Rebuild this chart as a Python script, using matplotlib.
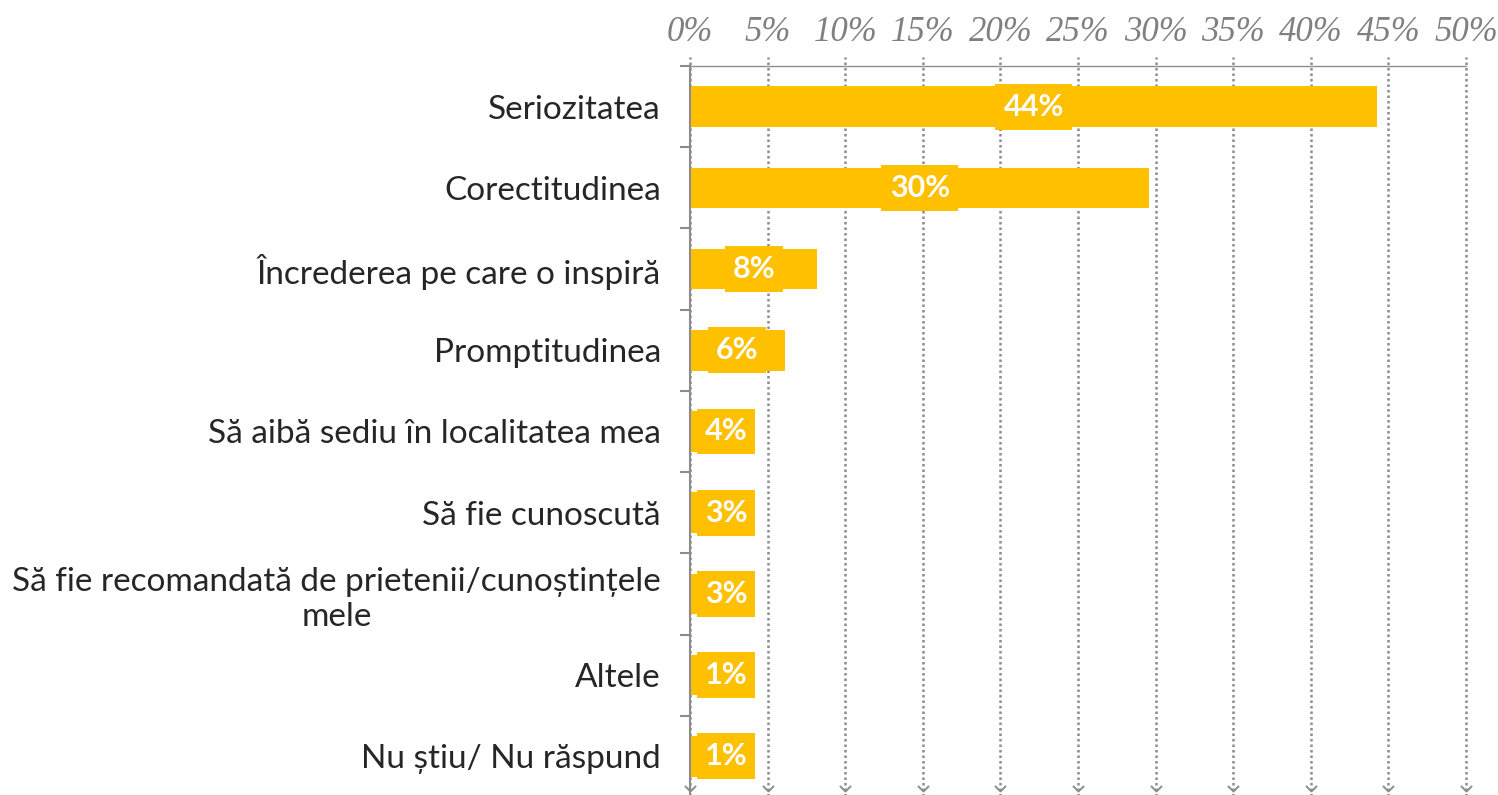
import matplotlib
matplotlib.use("Agg")
import matplotlib.pyplot as plt
from matplotlib.path import Path

categories = [
    "Seriozitatea",
    "Corectitudinea",
    "Încrederea pe care o inspiră",
    "Promptitudinea",
    "Să aibă sediu în localitatea mea",
    "Să fie cunoscută",
    "Să fie recomandată de prietenii/cunoștințele\nmele",
    "Altele",
    "Nu știu/ Nu răspund",
]
values = [44.3, 29.6, 8.2, 6.1, 3.8, 3.2, 2.9, 1.2, 1.0]
x_ticks = [0, 5, 10, 15, 20, 25, 30, 35, 40, 45, 50]
x_tick_labels = [f"{t}%" for t in x_ticks]

BAR_COLOR = "#FFC000"
GRID_COLOR = "#8C8C8C"
TEXT_COLOR = "#262626"

fig = plt.figure(figsize=(14.98, 7.95), dpi=100)
ax = fig.add_axes([0.4606, -0.0025, 0.518, 0.9195])

y = list(range(len(categories)))
ax.barh(y, values, height=0.5, color=BAR_COLOR, zorder=2)

ax.set_xlim(0, 50)
ax.set_ylim(len(categories) - 0.5, -0.5)

# value labels sit on a box of bar colour, a bit taller than the bar
px = 50 / 776  # data units per pixel
for yi, v in zip(y, values):
    label = f"{round(v)}%"
    box_w = (len(label) * 19 + 20) * px
    cx = max(v / 2, 2.32)
    ax.barh(yi, box_w, left=cx - box_w / 2, height=0.565, color=BAR_COLOR, zorder=3)
    ax.text(cx, yi, label, color="white", fontsize=22,
            fontweight="bold", family="Lato", ha="center", va="center", zorder=4)

# dotted gridlines that poke above the top line, with small arrow heads at the bottom
ext = 9 / 731
for t in x_ticks:
    ax.axvline(t, ymin=0, ymax=1 + ext, color=GRID_COLOR, lw=1.8,
               ls=(0, (1, 1.2)), clip_on=False, zorder=1)
chevron = Path([(-1, 1), (0, 0), (1, 1)], [Path.MOVETO, Path.LINETO, Path.LINETO])
ax.plot(x_ticks, [8.43] * len(x_ticks), ls="none", marker=chevron, markersize=8,
        markerfacecolor="none", markeredgecolor=GRID_COLOR, markeredgewidth=1.4,
        clip_on=False, zorder=1)

# spines
for s in ["right", "bottom"]:
    ax.spines[s].set_visible(False)
ax.spines["top"].set_linestyle((0, (1, 1)))
ax.spines["top"].set_color(GRID_COLOR)
ax.spines["top"].set_linewidth(1.0)
ax.spines["left"].set_color("#8C8C8C")
ax.spines["left"].set_linewidth(1.5)

ax.xaxis.tick_top()
ax.set_xticks(x_ticks)
ax.set_xticklabels(x_tick_labels, fontsize=25, style="italic",
                   family="Liberation Serif", color="#808080")
ax.tick_params(axis="x", length=0, pad=12)

ax.set_yticks(y)
ax.set_yticklabels(categories, fontsize=24, family="Lato", color=TEXT_COLOR)
ax.set_yticks([i - 0.5 for i in range(len(categories) + 1)], minor=True)
ax.tick_params(axis="y", which="major", length=0, pad=21)
ax.tick_params(axis="y", which="minor", length=7, width=1.5, color="#8C8C8C")
for lbl in ax.get_yticklabels():
    lbl.set_multialignment("center")

fig.savefig("out.png", dpi=100)
